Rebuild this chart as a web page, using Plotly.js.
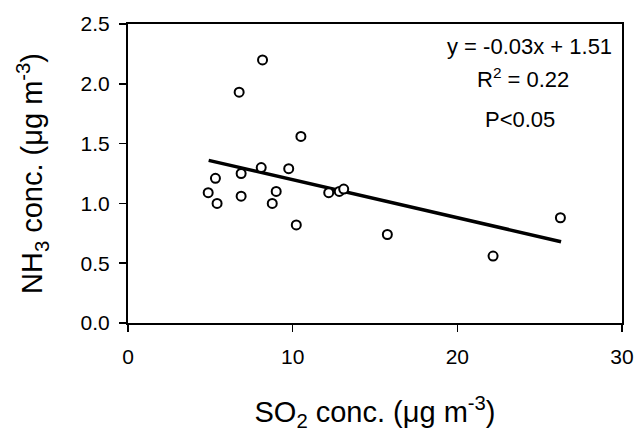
<!DOCTYPE html>
<html>
<head>
<meta charset="utf-8">
<script src="https://cdn.plot.ly/plotly-3.0.1.min.js"></script>
<style>html,body{margin:0;padding:0;background:#fff;}</style>
</head>
<body>
<div id="chart" style="width:637px;height:432px;"></div>
<script>
// SO2 concentration (x) and NH3 concentration (y), µg m^-3
const so2 = [4.87, 5.41, 5.31, 6.75, 6.87, 6.87, 8.17, 8.09, 8.76, 9.00, 9.76, 10.5, 10.22, 12.19, 12.83, 13.10, 15.75, 22.17, 26.26];
const nh3 = [1.09, 1.00, 1.21, 1.93, 1.25, 1.06, 2.20, 1.30, 1.00, 1.10, 1.29, 1.56, 0.82, 1.09, 1.10, 1.12, 0.74, 0.56, 0.88];
// regression line end points as drawn
const trendX = [4.9, 26.3];
const trendY = [1.36, 0.68];
const xTicks = [0, 10, 20, 30];
const yTicks = [0.0, 0.5, 1.0, 1.5, 2.0, 2.5];
const statLines = ["y = -0.03x + 1.51", "R<sup>2</sup> = 0.22", "P<0.05"];

const FONT = "Liberation Sans, Arial, Helvetica, sans-serif";

const traces = [
  {
    x: trendX, y: trendY, type: "scatter", mode: "lines",
    line: {color: "#000", width: 3.5}, hoverinfo: "skip", showlegend: false
  },
  {
    x: so2, y: nh3, type: "scatter", mode: "markers",
    marker: {symbol: "circle", size: 9, color: "#fff", line: {color: "#000", width: 2}},
    showlegend: false
  }
];

const axisCommon = {
  showgrid: false, zeroline: false, showline: true, linecolor: "#000", linewidth: 2,
  mirror: true, ticks: "outside", ticklen: 7, tickwidth: 1.5, tickcolor: "#000",
  tickfont: {family: FONT, size: 21, color: "#000"}
};

const layout = {
  width: 637, height: 432,
  margin: {l: 128, r: 15, t: 24, b: 109},
  paper_bgcolor: "#fff", plot_bgcolor: "#fff",
  font: {family: FONT, color: "#000"},
  xaxis: Object.assign({}, axisCommon, {
    range: [0, 30], tickvals: xTicks, ticktext: xTicks.map(String),
    ticklabelstandoff: 7,
    title: {text: "SO<sub>2</sub> conc. (μg m<sup>-3</sup>)", font: {family: FONT, size: 29, color: "#000"}, standoff: 36}
  }),
  yaxis: Object.assign({}, axisCommon, {
    range: [0, 2.5], tickvals: yTicks, ticktext: yTicks.map(v => v.toFixed(1)),
    ticklabelstandoff: 5,
    title: {text: "NH<sub>3</sub> conc. (μg m<sup>-3</sup>)", font: {family: FONT, size: 29, color: "#000"}, standoff: 29}
  }),
  annotations: [
    {x: 29.5, y: 2.31, xref: "x", yref: "y", text: statLines[0], showarrow: false, xanchor: "right", yanchor: "middle", font: {family: FONT, size: 22, color: "#000"}},
    {x: 24.0, y: 2.05, xref: "x", yref: "y", text: statLines[1], showarrow: false, xanchor: "center", yanchor: "middle", font: {family: FONT, size: 22, color: "#000"}},
    {x: 23.8, y: 1.70, xref: "x", yref: "y", text: statLines[2], showarrow: false, xanchor: "center", yanchor: "middle", font: {family: FONT, size: 22, color: "#000"}}
  ]
};

Plotly.newPlot("chart", traces, layout, {staticPlot: true, displayModeBar: false});
</script>
</body>
</html>
